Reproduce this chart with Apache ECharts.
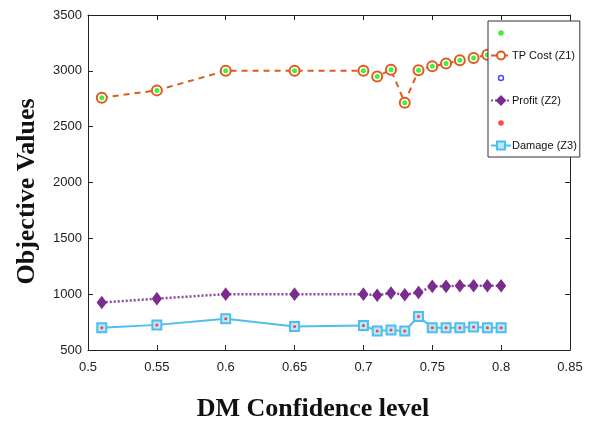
<!DOCTYPE html>
<html>
<head>
<meta charset="utf-8">
<script src="https://cdn.jsdelivr.net/npm/echarts@6/dist/echarts.min.js"></script>
<style>
  html, body { margin: 0; padding: 0; background: #fff; }
  #main { width: 593px; height: 427px; }
</style>
</head>
<body>
<div id="main"></div>
<script>
// 置信水平
var levels = [0.51, 0.55, 0.6, 0.65, 0.7, 0.71, 0.72, 0.73, 0.74, 0.75, 0.76, 0.77, 0.78, 0.79, 0.8];
// TP Cost (Z1)
var costZ1 = [2760, 2825, 3000, 3000, 3000, 2950, 3010, 2715, 3005, 3040, 3065, 3095, 3115, 3145, 3165];
// Profit (Z2)
var profitZ2 = [925, 960, 1000, 1000, 1000, 990, 1010, 995, 1015, 1070, 1070, 1075, 1075, 1075, 1075];
// Damage (Z3)
var damageZ3 = [700, 725, 780, 710, 720, 670, 680, 670, 800, 700, 700, 700, 705, 700, 700];
var xTicks = [0.5, 0.55, 0.6, 0.65, 0.7, 0.75, 0.8, 0.85];
var yTicks = [500, 1000, 1500, 2000, 2500, 3000, 3500];

function pairs(ys) {
    return levels.map(function (x, i) { return [x, ys[i]]; });
}

var tickFont = "'Liberation Sans', Arial, sans-serif";
var titleFont = "'Liberation Serif', 'DejaVu Serif', serif";
// 图例里的小圆点（四角各有一个极小的点用来撑开边界）
var dotIcon = 'path://M0,0L0.05,0L0,0.05Z M20,10L19.95,10L20,9.95Z M12.8,5A2.8,2.8 0 1 1 7.2,5A2.8,2.8 0 1 1 12.8,5Z';
var ringIcon = 'path://M0,0L0.05,0L0,0.05Z M20,10L19.95,10L20,9.95Z M13.2,5A3.2,3.2 0 1 1 6.8,5A3.2,3.2 0 1 1 13.2,5Z M11.8,5A1.8,1.8 0 1 0 8.2,5A1.8,1.8 0 1 0 11.8,5Z';

var myChart = echarts.init(document.getElementById('main'));

var frameAxis = {
    axisLine: {show: true, onZero: false, lineStyle: {color: '#222', width: 1}},
    axisTick: {show: true, inside: true, length: 5, lineStyle: {color: '#222'}},
    splitLine: {show: false}
};

var option = {
    animation: false,
    grid: {left: 88, right: 23, top: 15, bottom: 76},
    legend: {
        orient: 'vertical',
        left: 488,
        top: 21,
        padding: [7, 3, 6, 2],
        itemGap: 12,
        itemWidth: 20,
        itemHeight: 10,
        borderColor: '#333',
        borderWidth: 1,
        backgroundColor: '#fff',
        textStyle: {fontFamily: tickFont, fontSize: 11, color: '#111', padding: [0, 0, 0, -4]},
        formatter: function (name) {
            return name.indexOf('pts') >= 0 ? '' : name;
        },
        data: [
            {name: 'Z1 pts', icon: dotIcon, itemStyle: {color: '#11ee11', borderWidth: 0}},
            'TP Cost (Z1)',
            {name: 'Z2 pts', icon: ringIcon, itemStyle: {color: '#1a1aff', borderWidth: 0}},
            'Profit (Z2)',
            {name: 'Z3 pts', icon: dotIcon, itemStyle: {color: '#ff1a1a', borderWidth: 0}},
            'Damage (Z3)'
        ]
    },
    xAxis: [
        Object.assign({
            type: 'value',
            min: xTicks[0],
            max: xTicks[xTicks.length - 1],
            interval: 0.05,
            name: 'DM Confidence level',
            nameLocation: 'middle',
            nameGap: 46,
            nameTextStyle: {fontFamily: titleFont, fontWeight: 'bold', fontSize: 26, color: '#111', padding: [0, 32, 0, 0]},
            axisLabel: {
                fontFamily: tickFont, fontSize: 13, color: '#222', margin: 11,
                formatter: function (v) { return String(+v.toFixed(2)); }
            }
        }, frameAxis),
        Object.assign({
            type: 'value',
            position: 'top',
            min: xTicks[0],
            max: xTicks[xTicks.length - 1],
            interval: 0.05,
            axisLabel: {show: false}
        }, frameAxis)
    ],
    yAxis: [
        Object.assign({
            type: 'value',
            min: yTicks[0],
            max: yTicks[yTicks.length - 1],
            interval: 500,
            name: 'Objective Values',
            nameLocation: 'middle',
            nameGap: 48,
            nameTextStyle: {fontFamily: titleFont, fontWeight: 'bold', fontSize: 26, color: '#111', padding: [0, 18, 0, 0]},
            axisLabel: {
                fontFamily: tickFont, fontSize: 13, color: '#222', margin: 6,
                formatter: function (v) { return String(v); }
            }
        }, frameAxis),
        Object.assign({
            type: 'value',
            position: 'right',
            min: yTicks[0],
            max: yTicks[yTicks.length - 1],
            interval: 500,
            axisLabel: {show: false}
        }, frameAxis)
    ],
    series: [
        {
            name: 'TP Cost (Z1)',
            type: 'line',
            data: pairs(costZ1),
            symbol: 'circle',
            symbolSize: 10,
            itemStyle: {color: '#fff', borderColor: '#e0591e', borderWidth: 2},
            lineStyle: {color: '#e0591e', width: 2, type: [6, 5]},
            z: 2
        },
        {
            name: 'Z1 pts',
            type: 'scatter',
            data: pairs(costZ1),
            symbol: 'circle',
            symbolSize: 5,
            itemStyle: {color: '#11ee11'},
            z: 3
        },
        {
            name: 'Z2 pts',
            type: 'scatter',
            data: pairs(profitZ2),
            symbol: 'emptyCircle',
            symbolSize: 5,
            itemStyle: {color: '#1a1aff', borderWidth: 1.5},
            z: 1
        },
        {
            name: 'Profit (Z2)',
            type: 'line',
            data: pairs(profitZ2),
            symbol: 'diamond',
            symbolSize: [9, 12],
            itemStyle: {color: '#7b2d8e', borderColor: '#7b2d8e', borderWidth: 1},
            lineStyle: {color: '#8e44a0', width: 2.5, type: [2, 2]},
            z: 2
        },
        {
            name: 'Damage (Z3)',
            type: 'line',
            data: pairs(damageZ3),
            symbol: 'rect',
            symbolSize: 9,
            itemStyle: {color: '#bfe6f7', borderColor: '#4dbeee', borderWidth: 2},
            lineStyle: {color: '#4dbeee', width: 2},
            z: 2
        },
        {
            name: 'Z3 pts',
            type: 'scatter',
            data: pairs(damageZ3),
            symbol: 'circle',
            symbolSize: 3,
            itemStyle: {color: '#ff1a1a'},
            z: 3
        }
    ]
};
myChart.setOption(option);
</script>
</body>
</html>
